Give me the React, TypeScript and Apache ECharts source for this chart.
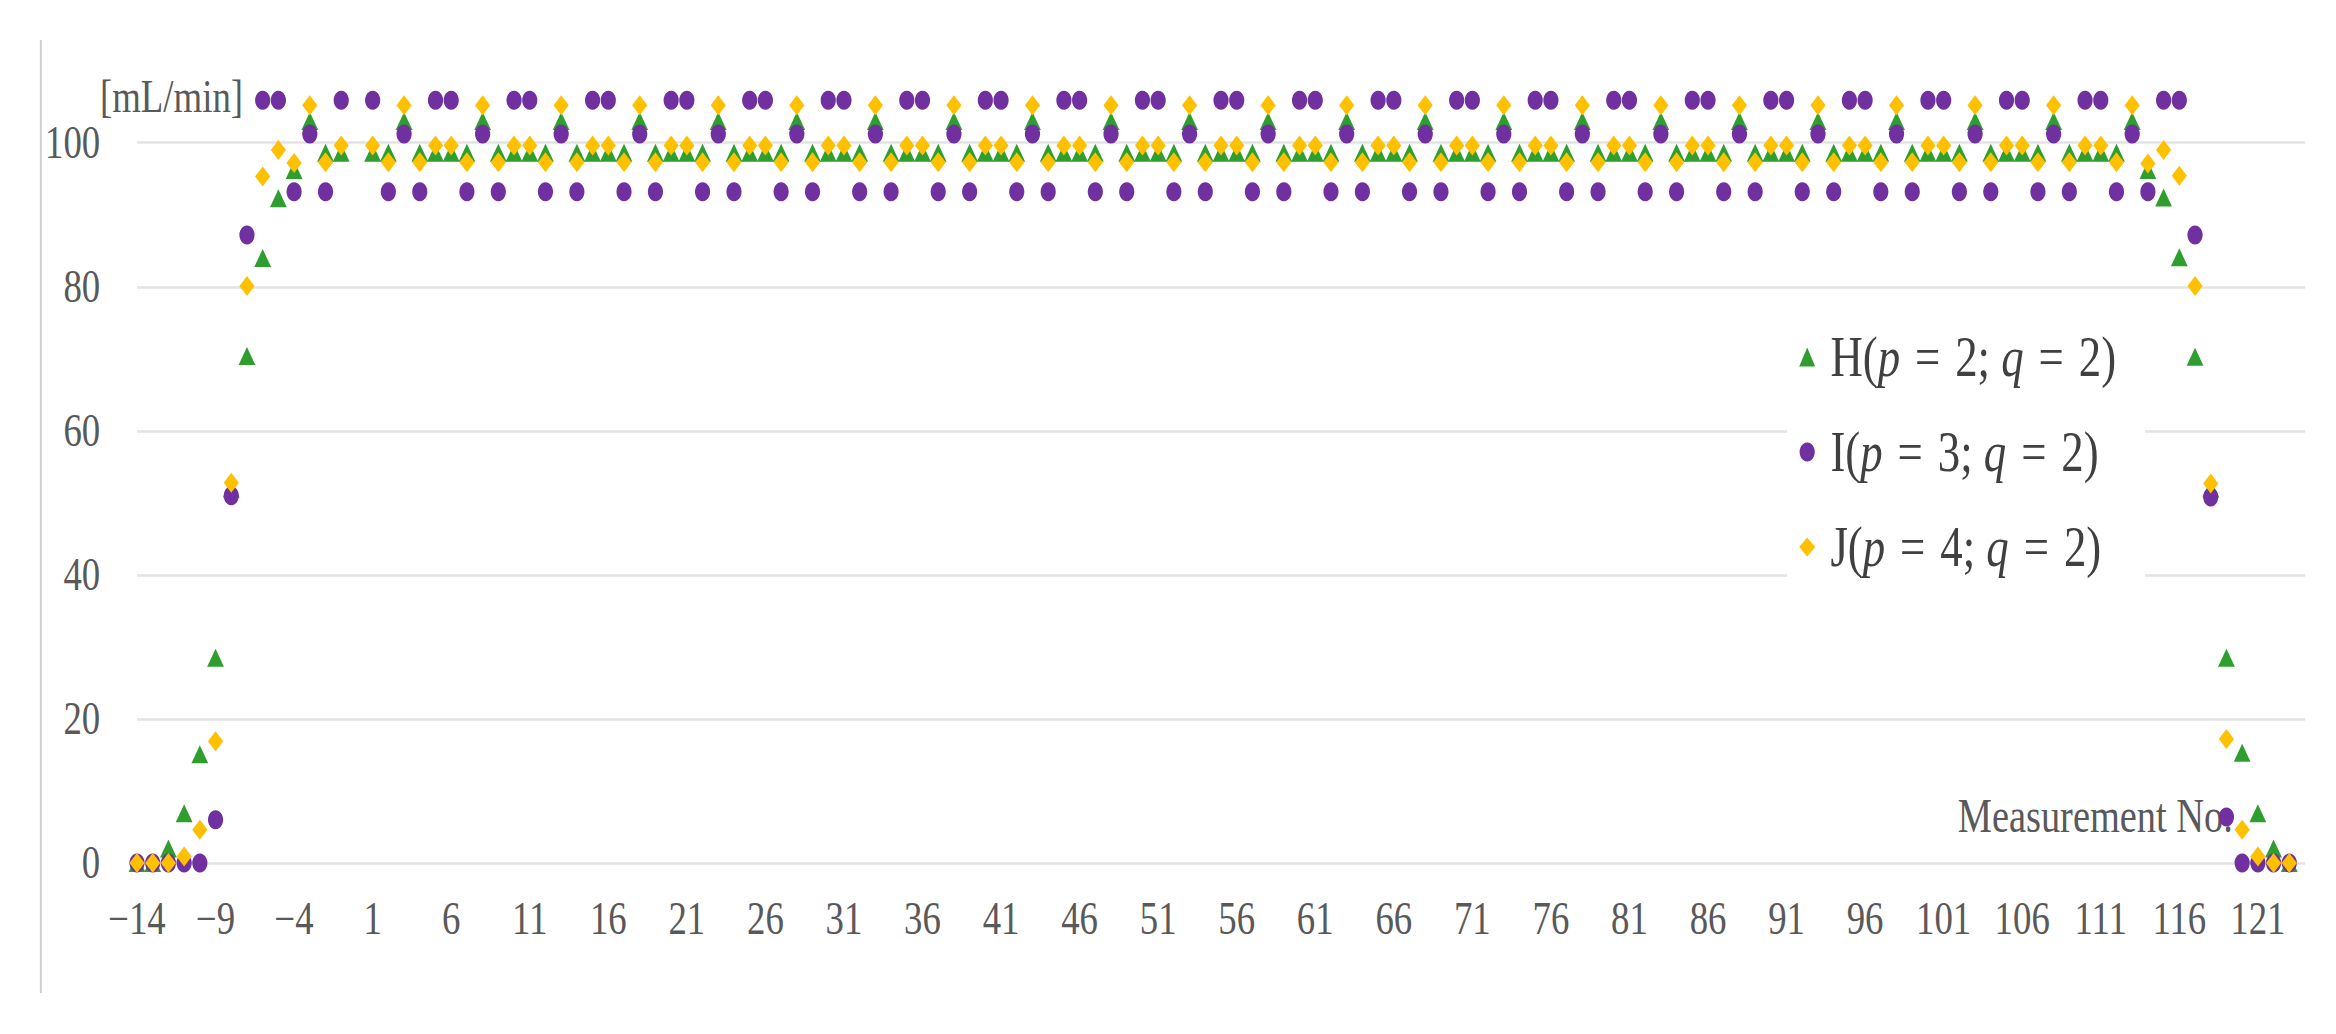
import React, { useEffect, useRef } from "react";
import * as echarts from "echarts";

// Measurement numbers (no measurement 0)
const measurementNo = [
  -14, -13, -12, -11, -10, -9, -8, -7, -6, -5, -4, -3, -2, -1,
  1, 2, 3, 4, 5, 6, 7, 8, 9, 10,
  11, 12, 13, 14, 15, 16, 17, 18, 19, 20,
  21, 22, 23, 24, 25, 26, 27, 28, 29, 30,
  31, 32, 33, 34, 35, 36, 37, 38, 39, 40,
  41, 42, 43, 44, 45, 46, 47, 48, 49, 50,
  51, 52, 53, 54, 55, 56, 57, 58, 59, 60,
  61, 62, 63, 64, 65, 66, 67, 68, 69, 70,
  71, 72, 73, 74, 75, 76, 77, 78, 79, 80,
  81, 82, 83, 84, 85, 86, 87, 88, 89, 90,
  91, 92, 93, 94, 95, 96, 97, 98, 99, 100,
  101, 102, 103, 104, 105, 106, 107, 108, 109, 110,
  111, 112, 113, 114, 115, 116, 117, 118, 119, 120,
  121, 122, 123,
];

// H(p = 2; q = 2)
const hValues = [
  0, 0, 2.0, 6.9, 15.1, 28.5, 52.0, 70.4, 84.0, 92.3, 96.2, 103.0, 98.6, 98.6,
  98.6, 98.6, 103.0, 98.6, 98.6,
  98.6, 98.6, 103.0, 98.6, 98.6,
  98.6, 98.6, 103.0, 98.6, 98.6,
  98.6, 98.6, 103.0, 98.6, 98.6,
  98.6, 98.6, 103.0, 98.6, 98.6,
  98.6, 98.6, 103.0, 98.6, 98.6,
  98.6, 98.6, 103.0, 98.6, 98.6,
  98.6, 98.6, 103.0, 98.6, 98.6,
  98.6, 98.6, 103.0, 98.6, 98.6,
  98.6, 98.6, 103.0, 98.6, 98.6,
  98.6, 98.6, 103.0, 98.6, 98.6,
  98.6, 98.6, 103.0, 98.6, 98.6,
  98.6, 98.6, 103.0, 98.6, 98.6,
  98.6, 98.6, 103.0, 98.6, 98.6,
  98.6, 98.6, 103.0, 98.6, 98.6,
  98.6, 98.6, 103.0, 98.6, 98.6,
  98.6, 98.6, 103.0, 98.6, 98.6,
  98.6, 98.6, 103.0, 98.6, 98.6,
  98.6, 98.6, 103.0, 98.6, 98.6,
  98.6, 98.6, 103.0, 98.6, 98.6,
  98.6, 98.6, 103.0, 98.6, 98.6,
  98.6, 98.6, 103.0, 98.6, 98.6,
  98.6, 98.6, 103.0,
  96.2, 92.4, 84.1, 70.3, 52.0, 28.5, 15.3, 6.9, 2.0, 0,
];

// I(p = 3; q = 2)
const iValues = [
  0, 0, 0, 0, 0, 6.0, 51.0, 87.2, 105.9, 105.9, 93.2, 101.2, 93.2, 105.9,
  105.9, 93.2, 101.2, 93.2, 105.9,
  105.9, 93.2, 101.2, 93.2, 105.9,
  105.9, 93.2, 101.2, 93.2, 105.9,
  105.9, 93.2, 101.2, 93.2, 105.9,
  105.9, 93.2, 101.2, 93.2, 105.9,
  105.9, 93.2, 101.2, 93.2, 105.9,
  105.9, 93.2, 101.2, 93.2, 105.9,
  105.9, 93.2, 101.2, 93.2, 105.9,
  105.9, 93.2, 101.2, 93.2, 105.9,
  105.9, 93.2, 101.2, 93.2, 105.9,
  105.9, 93.2, 101.2, 93.2, 105.9,
  105.9, 93.2, 101.2, 93.2, 105.9,
  105.9, 93.2, 101.2, 93.2, 105.9,
  105.9, 93.2, 101.2, 93.2, 105.9,
  105.9, 93.2, 101.2, 93.2, 105.9,
  105.9, 93.2, 101.2, 93.2, 105.9,
  105.9, 93.2, 101.2, 93.2, 105.9,
  105.9, 93.2, 101.2, 93.2, 105.9,
  105.9, 93.2, 101.2, 93.2, 105.9,
  105.9, 93.2, 101.2, 93.2, 105.9,
  105.9, 93.2, 101.2, 93.2, 105.9,
  105.9, 93.2, 101.2, 93.2, 105.9,
  105.9, 93.2, 101.2,
  93.2, 105.9, 105.9, 87.2, 50.8, 6.4, 0, 0, 0, 0,
];

// J(p = 4; q = 2)
const jValues = [
  0, 0, 0, 0.9, 4.6, 16.9, 52.8, 80.1, 95.3, 99.0, 97.2, 105.2, 97.3, 99.6,
  99.6, 97.3, 105.2, 97.3, 99.6,
  99.6, 97.3, 105.2, 97.3, 99.6,
  99.6, 97.3, 105.2, 97.3, 99.6,
  99.6, 97.3, 105.2, 97.3, 99.6,
  99.6, 97.3, 105.2, 97.3, 99.6,
  99.6, 97.3, 105.2, 97.3, 99.6,
  99.6, 97.3, 105.2, 97.3, 99.6,
  99.6, 97.3, 105.2, 97.3, 99.6,
  99.6, 97.3, 105.2, 97.3, 99.6,
  99.6, 97.3, 105.2, 97.3, 99.6,
  99.6, 97.3, 105.2, 97.3, 99.6,
  99.6, 97.3, 105.2, 97.3, 99.6,
  99.6, 97.3, 105.2, 97.3, 99.6,
  99.6, 97.3, 105.2, 97.3, 99.6,
  99.6, 97.3, 105.2, 97.3, 99.6,
  99.6, 97.3, 105.2, 97.3, 99.6,
  99.6, 97.3, 105.2, 97.3, 99.6,
  99.6, 97.3, 105.2, 97.3, 99.6,
  99.6, 97.3, 105.2, 97.3, 99.6,
  99.6, 97.3, 105.2, 97.3, 99.6,
  99.6, 97.3, 105.2, 97.3, 99.6,
  99.6, 97.3, 105.2, 97.3, 99.6,
  99.6, 97.3, 105.2,
  97.1, 99.0, 95.4, 80.1, 52.7, 17.2, 4.6, 0.9, 0, 0,
];

const seriesNames = ["H(p = 2; q = 2)", "I(p = 3; q = 2)", "J(p = 4; q = 2)"];
const seriesRich = [
  "{n|H(}{i|p}{n|\u2004=\u20042; }{i|q}{n|\u2004=\u20042)}",
  "{n|I(}{i|p}{n|\u2004=\u20043; }{i|q}{n|\u2004=\u20042)}",
  "{n|J(}{i|p}{n|\u2004=\u20044; }{i|q}{n|\u2004=\u20042)}",
];
const yAxisName = "[mL/min]";
const xAxisName = "Measurement No.";

const FONT = "'Liberation Serif', 'Times New Roman', Times, serif";
const SX = 0.8; // horizontal squeeze of the whole figure
const W = 2336 / SX;
const H = 1034;

export default function App() {
  const ref = useRef<HTMLDivElement>(null);

  useEffect(() => {
    if (!ref.current) return;
    const chart = echarts.init(ref.current, null, { renderer: "svg" });

    const toPairs = (vals: number[]) => measurementNo.map((n, i) => [n, vals[i]]);

    const gridColor = "#e3e3e3";

    chart.setOption({
      animation: false,
      backgroundColor: "#ffffff",
      grid: { left: 171.25, right: 38.75, top: 70.7, bottom: 171, containLabel: false },
      xAxis: {
        type: "value",
        min: -14,
        max: 124,
        interval: 5,
        axisLine: { show: false },
        axisTick: { show: false },
        splitLine: { show: false },
        axisLabel: {
          margin: 33,
          fontSize: 46,
          fontFamily: FONT,
          color: "#595959",
          formatter: (v: number) => (v > 121 ? "" : v < 0 ? "\u2212" + Math.abs(v) : String(v)),
        },
      },
      yAxis: {
        type: "value",
        min: 0,
        max: 110,
        interval: 20,
        axisLine: { show: false },
        axisTick: { show: false },
        splitLine: {
          show: true,
          lineStyle: {
            width: 2.5,
            color: [gridColor, gridColor, gridColor, gridColor, gridColor, gridColor, "rgba(0,0,0,0)"],
          },
        },
        axisLabel: {
          margin: 46,
          fontSize: 46,
          fontFamily: FONT,
          color: "#595959",
          formatter: (v: number) => (v > 100 ? "" : String(v)),
        },
      },
      legend: {
        orient: "vertical",
        left: 2234,
        top: 309,
        padding: [20, 36, 20, 15],
        backgroundColor: "#ffffff",
        itemWidth: 20,
        itemHeight: 19,
        itemGap: 39,
        selectedMode: false,
        data: [
          { name: seriesNames[0], icon: "triangle" },
          { name: seriesNames[1], icon: "circle" },
          { name: seriesNames[2], icon: "diamond" },
        ],
        formatter: (name: string) => seriesRich[seriesNames.indexOf(name)],
        textStyle: {
          fontFamily: FONT,
          fontSize: 56,
          color: "#404040",
          lineHeight: 56,
          padding: [0, 0, 0, 14],
          rich: {
            n: { fontFamily: FONT, fontSize: 56, color: "#404040", lineHeight: 56 },
            i: { fontFamily: FONT, fontSize: 56, color: "#404040", lineHeight: 56, fontStyle: "italic" },
          },
        },
      },
      series: [
        {
          name: seriesNames[0],
          type: "scatter",
          symbol: "triangle",
          symbolSize: [21, 18],
          itemStyle: { color: "#2E9F2E", opacity: 1 },
          data: toPairs(hValues),
          z: 2,
        },
        {
          name: seriesNames[1],
          type: "scatter",
          symbol: "circle",
          symbolSize: [19, 19],
          itemStyle: { color: "#7030A0", opacity: 1 },
          data: toPairs(iValues),
          z: 3,
        },
        {
          name: seriesNames[2],
          type: "scatter",
          symbol: "diamond",
          symbolSize: [19, 20],
          itemStyle: { color: "#FFC000", opacity: 1 },
          data: toPairs(jValues),
          z: 4,
        },
      ],
      graphic: [
        {
          type: "line",
          shape: { x1: 51, y1: 40, x2: 51, y2: 993 },
          style: { stroke: "#d0d0d0", lineWidth: 2.5 },
          z: 0,
        },
        {
          type: "text",
          x: 125,
          y: 97,
          style: {
            text: yAxisName,
            font: `46px ${FONT}`,
            fill: "#595959",
            align: "left",
            verticalAlign: "middle",
          },
        },
        {
          type: "text",
          x: 2791,
          y: 815,
          z: 1,
          style: {
            text: xAxisName,
            font: `48px ${FONT}`,
            fill: "#595959",
            align: "right",
            verticalAlign: "middle",
          },
        },
      ],
    });

    return () => chart.dispose();
  }, []);

  return (
    <div
      ref={ref}
      style={{
        position: "fixed",
        left: 0,
        top: 0,
        width: W,
        height: H,
        transform: `scaleX(${SX})`,
        transformOrigin: "0 0",
        background: "#fff",
      }}
    />
  );
}
